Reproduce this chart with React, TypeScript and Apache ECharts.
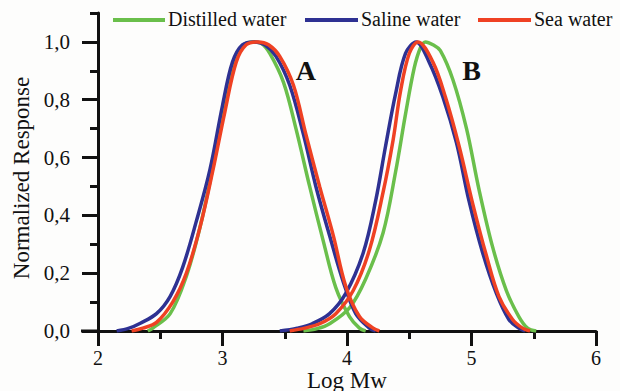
import React, { useEffect, useRef } from "react";
import * as echarts from "echarts";

const seriesNames = ["Distilled water", "Saline water", "Sea water"];
const seriesColors = ["#6abf4b", "#2e3192", "#ef4123"];

// Peak A (Log Mw, normalized response)
const distilledA = [[2.40,0],[2.44,0.01],[2.58,0.06],[2.71,0.19],[2.82,0.36],[2.92,0.56],[3.03,0.80],[3.11,0.95],[3.17,0.99],[3.245,1.0],[3.31,0.995],[3.38,0.96],[3.49,0.86],[3.59,0.70],[3.70,0.50],[3.81,0.31],[3.91,0.15],[4.02,0.05],[4.10,0.01],[4.15,0]];
const salineA = [[2.15,0],[2.25,0.01],[2.34,0.027],[2.47,0.06],[2.58,0.12],[2.68,0.22],[2.79,0.38],[2.90,0.56],[3.00,0.78],[3.08,0.93],[3.16,0.99],[3.26,1.0],[3.34,0.99],[3.43,0.95],[3.54,0.85],[3.65,0.68],[3.75,0.50],[3.86,0.33],[3.97,0.17],[4.07,0.06],[4.18,0.01],[4.23,0]];
const seaA = [[2.27,0],[2.36,0.01],[2.47,0.03],[2.60,0.10],[2.71,0.20],[2.82,0.36],[2.92,0.55],[3.02,0.76],[3.11,0.93],[3.19,0.99],[3.285,1.0],[3.37,0.99],[3.46,0.95],[3.57,0.85],[3.67,0.68],[3.78,0.50],[3.89,0.33],[3.99,0.155],[4.10,0.05],[4.21,0.01],[4.26,0]];

// Peak B
const distilledB = [[3.65,0],[3.76,0.008],[3.86,0.025],[4.02,0.08],[4.15,0.18],[4.29,0.34],[4.39,0.55],[4.47,0.75],[4.54,0.91],[4.59,0.98],[4.63,1.0],[4.69,0.99],[4.75,0.97],[4.85,0.87],[4.96,0.70],[5.06,0.49],[5.17,0.29],[5.28,0.14],[5.38,0.05],[5.45,0.01],[5.52,0]];
const salineB = [[3.46,0],[3.60,0.01],[3.72,0.025],[3.86,0.06],[3.99,0.13],[4.13,0.27],[4.23,0.45],[4.31,0.64],[4.39,0.82],[4.47,0.96],[4.555,1.0],[4.66,0.93],[4.77,0.81],[4.88,0.65],[4.98,0.45],[5.09,0.27],[5.20,0.13],[5.30,0.04],[5.38,0.01],[5.43,0]];
const seaB = [[3.54,0],[3.66,0.01],[3.78,0.025],[3.91,0.06],[4.05,0.14],[4.18,0.28],[4.29,0.48],[4.37,0.66],[4.43,0.83],[4.50,0.96],[4.57,1.0],[4.69,0.93],[4.79,0.81],[4.90,0.64],[5.01,0.44],[5.12,0.26],[5.22,0.12],[5.33,0.04],[5.41,0.01],[5.47,0]];

const xTicks = [2, 3, 4, 5, 6];
const yMajorTicks = [0, 0.2, 0.4, 0.6, 0.8, 1.0];
const yMinorTicks = [0.1, 0.3, 0.5, 0.7, 0.9, 1.1];
const peakLabels = ["A", "B"];
const peakLabelPos = [[3.67, 0.9], [5.0, 0.9]];
const xName = "Log Mw";
const yName = "Normalized Response";

const FONT = "'Times New Roman', 'Liberation Serif', Times, serif";
const INK = "#111";

export default function App() {
  const ref = useRef<HTMLDivElement>(null);
  useEffect(() => {
    if (!ref.current) return;
    const chart = echarts.init(ref.current, undefined, { renderer: "svg" });
    const curves = [
      [distilledA, distilledB],
      [salineA, salineB],
      [seaA, seaB],
    ];
    const series: any[] = [];
    curves.forEach((pair, i) => {
      pair.forEach((d) => {
        series.push({
          type: "line",
          name: seriesNames[i],
          data: d,
          smooth: 0.35,
          showSymbol: false,
          symbol: "none",
          lineStyle: { color: seriesColors[i], width: 3.5 },
          itemStyle: { color: seriesColors[i] },
          z: 2 + i,
        });
      });
    });
    chart.setOption({
      animation: false,
      backgroundColor: "#fdfdfc",
      grid: { left: 98, right: 24, top: 13, bottom: 60, containLabel: false, outerBoundsMode: "none" },
      xAxis: {
        type: "value",
        min: xTicks[0],
        max: xTicks[xTicks.length - 1],
        interval: 1,
        axisLine: { show: true, lineStyle: { color: INK, width: 3 } },
        axisTick: { show: true, length: 15, lineStyle: { color: INK, width: 3 } },
        minorTick: { show: true, splitNumber: 2, length: 8, lineStyle: { color: INK, width: 3 } },
        splitLine: { show: false },
        minorSplitLine: { show: false },
        axisLabel: { show: false },
      },
      yAxis: [
        {
          type: "value",
          min: 0,
          max: 1.1,
          position: "left",
          axisLine: { show: true, onZero: false, lineStyle: { color: INK, width: 3 } },
          axisTick: { show: true, customValues: yMajorTicks, length: 16, lineStyle: { color: INK, width: 3 } },
          axisLabel: { show: false },
          splitLine: { show: false },
        },
        {
          type: "value",
          min: 0,
          max: 1.1,
          position: "left",
          axisLine: { show: false },
          axisTick: { show: true, customValues: yMinorTicks, length: 8, lineStyle: { color: INK, width: 3 } },
          axisLabel: { show: false },
          splitLine: { show: false },
        },
      ],
      series,
    });

    const px = (x: number, y: number) => chart.convertToPixel({ gridIndex: 0 }, [x, y]) as number[];
    const origin = px(xTicks[0], 0);
    const topLeft = px(xTicks[0], 1.1);
    const graphic: any[] = [];
    graphic.push({ type: "line", shape: { x1: origin[0] - 17, y1: origin[1], x2: origin[0] + 1, y2: origin[1] }, style: { stroke: INK, lineWidth: 3 }, z: 10 });
    xTicks.forEach((v) => {
      const p = px(v, 0);
      graphic.push({ type: "text", x: p[0], y: p[1] + 27, style: { text: String(v), fontFamily: FONT, fontSize: 20, fill: INK, align: "center", verticalAlign: "middle" } });
    });
    yMajorTicks.forEach((v) => {
      const p = px(xTicks[0], v);
      graphic.push({ type: "text", x: p[0] - 28, y: p[1], style: { text: v.toFixed(1).replace(".", ","), fontFamily: FONT, fontSize: 21, fill: INK, align: "right", verticalAlign: "middle" } });
    });
    const xMid = px((xTicks[0] + xTicks[xTicks.length - 1]) / 2, 0);
    graphic.push({ type: "text", x: xMid[0], y: origin[1] + 49, style: { text: xName, fontFamily: FONT, fontSize: 23, fill: INK, align: "center", verticalAlign: "middle" } });
    graphic.push({ type: "text", x: origin[0] - 77, y: (origin[1] + topLeft[1]) / 2 + 6, rotation: Math.PI / 2, style: { text: yName, fontFamily: FONT, fontSize: 23, fill: INK, align: "center", verticalAlign: "middle" } });
    peakLabels.forEach((t, i) => {
      const p = px(peakLabelPos[i][0], peakLabelPos[i][1]);
      graphic.push({ type: "text", x: p[0], y: p[1], style: { text: t, fontFamily: FONT, fontSize: 28, fontWeight: "bold", fill: INK, align: "center", verticalAlign: "middle" } });
    });
    const legendLines = [[113, 165], [305, 358], [478, 531]];
    seriesNames.forEach((name, i) => {
      const [a, b] = legendLines[i];
      graphic.push({ type: "line", shape: { x1: a, y1: 20, x2: b, y2: 20 }, style: { stroke: seriesColors[i], lineWidth: 4 } });
      graphic.push({ type: "text", x: b + 3, y: 19, style: { text: name, fontFamily: FONT, fontSize: 20, fill: INK, align: "left", verticalAlign: "middle" } });
    });
    chart.setOption({ graphic });
    return () => chart.dispose();
  }, []);
  return <div ref={ref} style={{ position: "fixed", left: 0, top: 0, width: 620, height: 391 }} />;
}
